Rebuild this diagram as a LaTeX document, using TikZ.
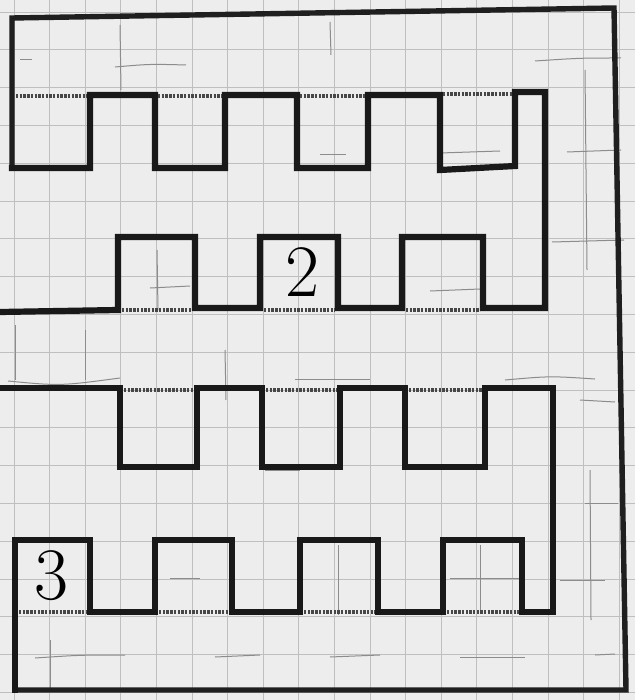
\documentclass[tikz,border=0pt]{standalone}
\begin{document}
\begin{tikzpicture}[x=1pt,y=-1pt,
  paper/.style={fill=black!7},
  gridline/.style={draw=black!25,line width=0.8pt},
  pencil/.style={draw=black!45,line width=1pt},
  wall/.style={draw=black!90,line width=6.2pt,line join=miter,line cap=rect},
  frame/.style={draw=black!88,line width=5.4pt,line join=miter,line cap=rect},
  door/.style={draw=black!72,line width=4pt,dash pattern=on 2.4pt off 1.3pt},
  numeral/.style={font=\fontsize{74}{74}\selectfont,inner sep=0pt}]
\useasboundingbox (0,0) rectangle (635,700);
\fill[paper] (0,0) rectangle (635,700);
% graph paper grid
\foreach \k in {0,...,17} \draw[gridline] ({14+35.6*\k},0) -- ({14+35.6*\k},700);
\foreach \k in {0,...,18} \draw[gridline] (0,{12+37.8*\k}) -- (635,{12+37.8*\k});
% faint pencil marks
\draw[pencil] (20,60) -- (32,60);
\draw[pencil] (115,67) .. controls (150,64) .. (186,65);
\draw[pencil] (120,25) -- (121,90);
\draw[pencil] (330,22) -- (331,55);
\draw[pencil] (320,155) -- (346,155);
\draw[pencil] (440,153) -- (500,151);
\draw[pencil] (535,61) .. controls (580,58) .. (621,58);
\draw[pencil] (567,152) -- (621,150);
\draw[pencil] (552,242) -- (624,240);
\draw[pencil] (585,70) -- (587,270);
\draw[pencil] (150,288) -- (190,286);
\draw[pencil] (430,291) -- (480,289);
\draw[pencil] (157,250) -- (158,310);
\draw[pencil] (8,381) .. controls (60,386) .. (120,378);
\draw[pencil] (295,379) -- (370,379);
\draw[pencil] (505,380) .. controls (550,376) .. (595,379);
\draw[pencil] (15,325) -- (15,380);
\draw[pencil] (85,330) -- (85,380);
\draw[pencil] (225,350) -- (226,400);
\draw[pencil] (265,470) -- (300,470);
\draw[pencil] (580,400) -- (615,402);
\draw[pencil] (585,503) -- (618,503);
\draw[pencil] (590,470) -- (591,620);
\draw[pencil] (560,580) -- (605,580);
\draw[pencil] (595,655) -- (615,654);
\draw[pencil] (170,578) -- (200,578);
\draw[pencil] (450,578) -- (520,578);
\draw[pencil] (35,658) .. controls (80,655) .. (125,655);
\draw[pencil] (215,657) -- (260,655);
\draw[pencil] (330,657) -- (380,655);
\draw[pencil] (460,657) -- (525,657);
\draw[pencil] (50,640) -- (50,690);
\draw[pencil] (338,545) -- (338,615);
\draw[pencil] (480,545) -- (480,610);
% outer frame
\draw[frame] (12,168) -- (12,18) -- (614,8) -- (626,690) -- (15,690);
% upper comb: row 1 rooms and row 2 rooms
\draw[wall] (12,168) -- (90,168) -- (90,95) -- (155,95) -- (155,168) -- (225,168)
  -- (225,95) -- (297,95) -- (297,168) -- (368,168) -- (368,95) -- (440,95)
  -- (440,170) -- (515,166) -- (515,92) -- (545,92) -- (545,308) -- (483,308)
  -- (483,237) -- (402,237) -- (402,308) -- (338,308) -- (338,237) -- (260,237)
  -- (260,308) -- (195,308) -- (195,237) -- (118,237) -- (118,310) -- (0,312);
% lower comb: row 3 rooms and row 4 rooms
\draw[wall] (0,388) -- (120,388) -- (120,467) -- (197,467) -- (197,388) -- (262,388)
  -- (262,467) -- (340,467) -- (340,388) -- (405,388) -- (405,467) -- (485,467)
  -- (485,388) -- (553,388) -- (553,612) -- (522,612) -- (522,540) -- (443,540)
  -- (443,612) -- (378,612) -- (378,540) -- (300,540) -- (300,612) -- (232,612)
  -- (232,540) -- (155,540) -- (155,612) -- (90,612) -- (90,540) -- (15,540)
  -- (15,690);
% doors
\draw[door] (16,96) -- (87,96);
\draw[door] (158,96) -- (222,96);
\draw[door] (300,96) -- (365,96);
\draw[door] (443,94) -- (512,94);
\draw[door] (122,310) -- (192,310);
\draw[door] (264,310) -- (335,310);
\draw[door] (406,310) -- (480,310);
\draw[door] (124,390) -- (194,390);
\draw[door] (266,390) -- (337,390);
\draw[door] (409,390) -- (482,390);
\draw[door] (19,612) -- (86,612);
\draw[door] (159,612) -- (229,612);
\draw[door] (304,612) -- (375,612);
\draw[door] (447,612) -- (519,612);
% room numbers
\node[numeral] (two) at (302,272) {2};
\node[numeral] (three) at (51,576) {3};
\end{tikzpicture}
\end{document}
